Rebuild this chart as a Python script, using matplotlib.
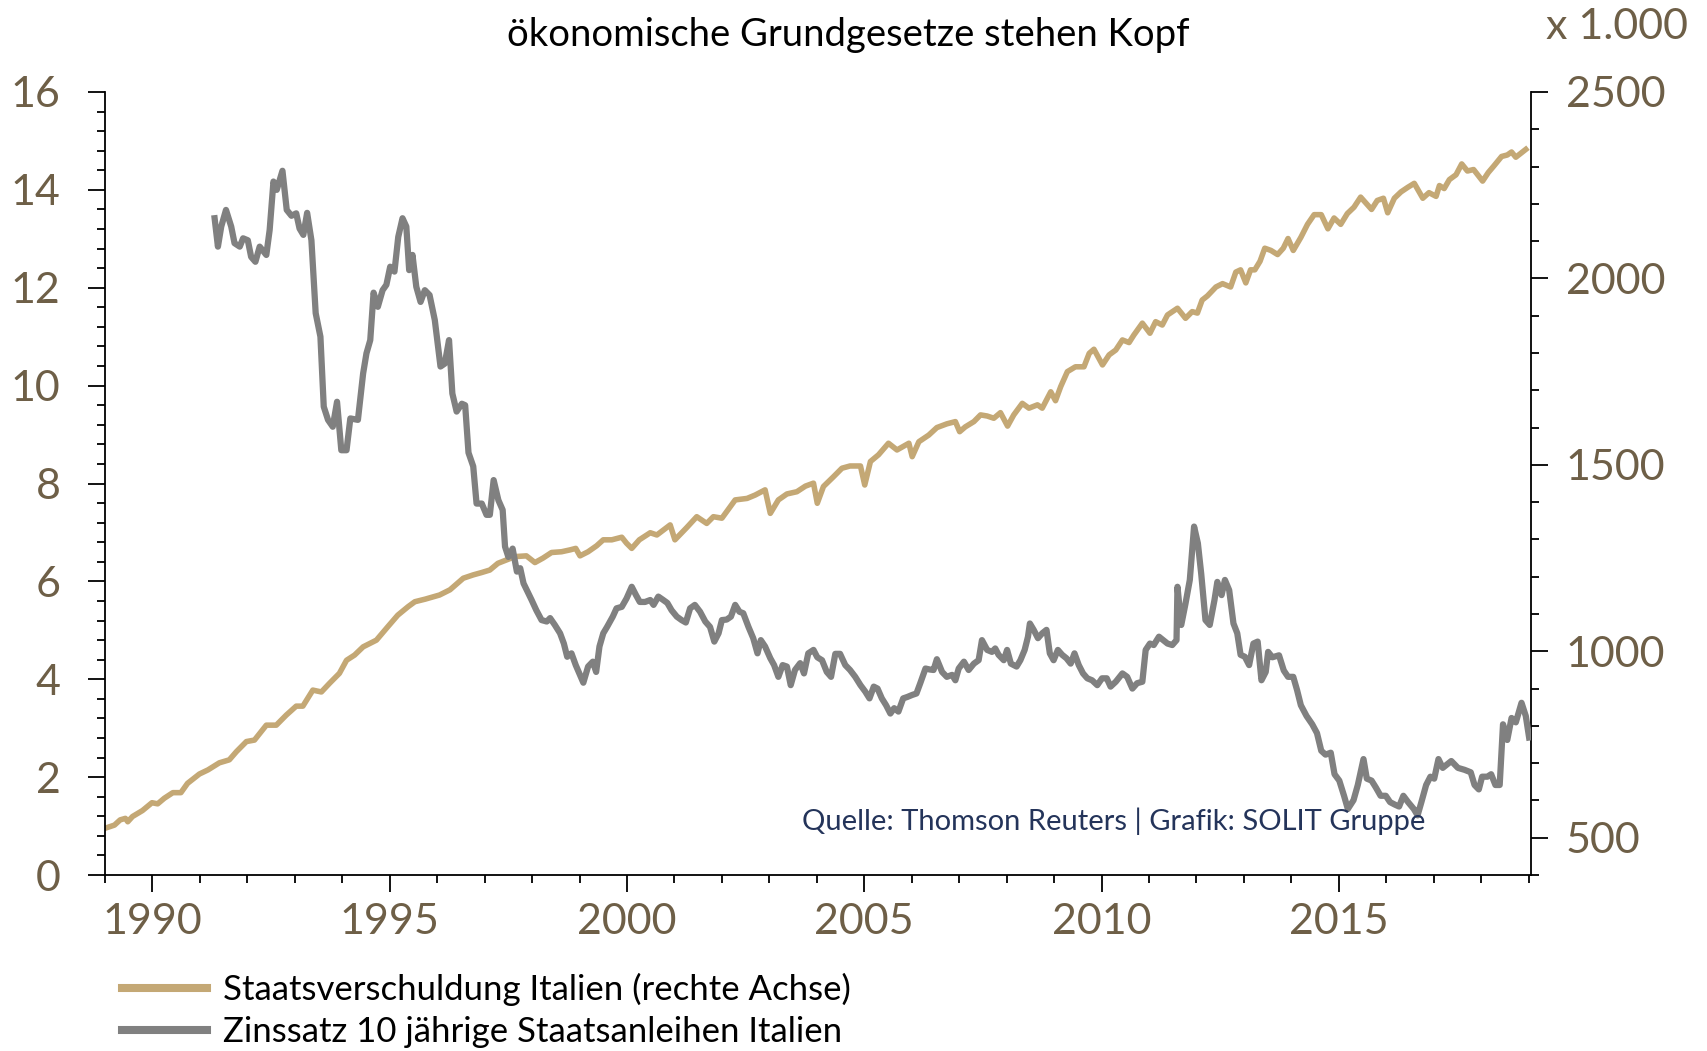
import matplotlib
matplotlib.use("Agg")
import matplotlib.pyplot as plt
from matplotlib.ticker import MultipleLocator

plt.rcParams['font.family'] = ['Lato', 'DejaVu Sans']

# Staatsverschuldung Italien (Mrd. EUR, rechte Achse), Zeitpunkte als Dezimaljahr
debt_t = [1988.99, 1989.20, 1989.32, 1989.43, 1989.48, 1989.58, 1989.79, 1989.99, 1990.11, 1990.25,
          1990.43, 1990.60, 1990.74, 1990.99, 1991.17, 1991.41, 1991.62, 1991.77, 1991.98, 1992.15,
          1992.40, 1992.61, 1992.82, 1993.03, 1993.17, 1993.38, 1993.56, 1993.73, 1993.94, 1994.09,
          1994.26, 1994.44, 1994.72, 1994.96, 1995.17, 1995.39, 1995.53, 1995.75, 1996.05, 1996.27,
          1996.55, 1996.76, 1996.93, 1997.11, 1997.28, 1997.46, 1997.64, 1997.88, 1998.06, 1998.23,
          1998.41, 1998.62, 1998.80, 1998.92, 1999.01, 1999.18, 1999.36, 1999.50, 1999.68, 1999.89,
          1999.99, 2000.10, 2000.26, 2000.49, 2000.63, 2000.91, 2001.01, 2001.26, 2001.47, 2001.68,
          2001.82, 2002.00, 2002.28, 2002.53, 2002.70, 2002.91, 2003.02, 2003.19, 2003.37, 2003.58,
          2003.76, 2003.93, 2004.01, 2004.14, 2004.35, 2004.53, 2004.70, 2004.92, 2005.01, 2005.13,
          2005.30, 2005.51, 2005.69, 2005.94, 2006.01, 2006.15, 2006.36, 2006.53, 2006.74, 2006.92,
          2007.01, 2007.13, 2007.31, 2007.45, 2007.59, 2007.73, 2007.87, 2008.02, 2008.15, 2008.33,
          2008.47, 2008.65, 2008.75, 2008.93, 2009.03, 2009.14, 2009.28, 2009.45, 2009.63, 2009.74,
          2009.84, 2010.02, 2010.16, 2010.30, 2010.44, 2010.58, 2010.68, 2010.86, 2011.02, 2011.14,
          2011.28, 2011.39, 2011.60, 2011.77, 2011.91, 2012.02, 2012.12, 2012.23, 2012.41, 2012.55,
          2012.72, 2012.83, 2012.93, 2013.04, 2013.14, 2013.23, 2013.34, 2013.44, 2013.57, 2013.71,
          2013.83, 2013.93, 2014.04, 2014.20, 2014.34, 2014.48, 2014.63, 2014.77, 2014.90, 2015.04,
          2015.18, 2015.32, 2015.46, 2015.69, 2015.81, 2015.94, 2016.03, 2016.17, 2016.31, 2016.45,
          2016.59, 2016.77, 2016.90, 2017.05, 2017.12, 2017.22, 2017.33, 2017.47, 2017.59, 2017.71,
          2017.84, 2018.03, 2018.15, 2018.27, 2018.43, 2018.55, 2018.64, 2018.73, 2018.84, 2018.94]
debt_v = [525, 534, 548, 552, 543, 557, 573, 594, 591, 606,
          621, 621, 646, 671, 682, 701, 709, 731, 758, 762,
          802, 802, 829, 853, 853, 896, 891, 914, 941, 976,
          990, 1012, 1030, 1066, 1097, 1120, 1133, 1140, 1151, 1165,
          1196, 1205, 1211, 1218, 1236, 1245, 1254, 1256, 1238, 1250,
          1265, 1267, 1272, 1276, 1256, 1267, 1283, 1299, 1299, 1306,
          1290, 1276, 1299, 1318, 1312, 1339, 1299, 1332, 1361, 1343,
          1361, 1357, 1406, 1410, 1419, 1433, 1370, 1406, 1422, 1428,
          1443, 1451, 1397, 1442, 1468, 1491, 1497, 1497, 1446, 1509,
          1527, 1558, 1540, 1558, 1522, 1562, 1580, 1600, 1610, 1616,
          1589, 1602, 1616, 1634, 1631, 1625, 1640, 1604, 1634, 1665,
          1652, 1661, 1652, 1696, 1672, 1710, 1750, 1763, 1763, 1799,
          1810, 1768, 1795, 1808, 1835, 1828, 1848, 1880, 1853, 1884,
          1875, 1902, 1920, 1893, 1911, 1907, 1942, 1953, 1977, 1986,
          1977, 2017, 2023, 1988, 2023, 2023, 2046, 2081, 2075, 2064,
          2081, 2107, 2075, 2110, 2145, 2171, 2171, 2133, 2162, 2145,
          2174, 2191, 2218, 2185, 2209, 2215, 2176, 2215, 2232, 2244,
          2255, 2215, 2230, 2220, 2249, 2241, 2265, 2278, 2307, 2288,
          2292, 2261, 2284, 2302, 2327, 2331, 2339, 2325, 2336, 2346]

# Zinssatz 10-jaehrige Staatsanleihen Italien (%, linke Achse)
yield_t = [1991.31, 1991.38, 1991.45, 1991.55, 1991.66, 1991.73, 1991.84, 1991.91, 1992.01, 1992.08,
           1992.17, 1992.26, 1992.40, 1992.47, 1992.55, 1992.62, 1992.74, 1992.83, 1992.93, 1993.03,
           1993.10, 1993.18, 1993.26, 1993.35, 1993.44, 1993.54, 1993.61, 1993.70, 1993.80, 1993.89,
           1993.98, 1994.09, 1994.17, 1994.33, 1994.44, 1994.51, 1994.59, 1994.66, 1994.75, 1994.85,
           1994.93, 1995.01, 1995.10, 1995.18, 1995.27, 1995.35, 1995.41, 1995.48, 1995.56, 1995.65,
           1995.74, 1995.84, 1995.95, 1996.07, 1996.16, 1996.25, 1996.32, 1996.41, 1996.52, 1996.59,
           1996.66, 1996.76, 1996.83, 1996.94, 1997.04, 1997.11, 1997.19, 1997.29, 1997.38, 1997.43,
           1997.50, 1997.59, 1997.68, 1997.75, 1997.82, 1997.99, 1998.09, 1998.20, 1998.31, 1998.38,
           1998.48, 1998.59, 1998.67, 1998.74, 1998.83, 1998.92, 1999.01, 1999.08, 1999.18, 1999.28,
           1999.35, 1999.42, 1999.50, 1999.58, 1999.70, 1999.78, 1999.89, 1999.99, 2000.10, 2000.19,
           2000.27, 2000.38, 2000.49, 2000.56, 2000.66, 2000.75, 2000.85, 2000.94, 2001.05, 2001.15,
           2001.24, 2001.33, 2001.43, 2001.54, 2001.65, 2001.75, 2001.84, 2001.93, 2002.00, 2002.10,
           2002.19, 2002.28, 2002.37, 2002.45, 2002.56, 2002.66, 2002.75, 2002.82, 2002.91, 2003.02,
           2003.10, 2003.19, 2003.28, 2003.37, 2003.45, 2003.54, 2003.65, 2003.73, 2003.82, 2003.93,
           2004.01, 2004.11, 2004.21, 2004.30, 2004.39, 2004.49, 2004.60, 2004.70, 2004.81, 2004.92,
           2005.02, 2005.11, 2005.20, 2005.28, 2005.37, 2005.46, 2005.55, 2005.63, 2005.72, 2005.82,
           2005.91, 2006.01, 2006.10, 2006.18, 2006.29, 2006.38, 2006.46, 2006.53, 2006.64, 2006.74,
           2006.85, 2006.92, 2006.99, 2007.10, 2007.20, 2007.31, 2007.41, 2007.48, 2007.59, 2007.69,
           2007.76, 2007.83, 2007.94, 2008.01, 2008.09, 2008.21, 2008.29, 2008.38, 2008.45, 2008.49,
           2008.57, 2008.66, 2008.75, 2008.84, 2008.91, 2008.99, 2009.08, 2009.17, 2009.26, 2009.35,
           2009.43, 2009.52, 2009.61, 2009.70, 2009.80, 2009.91, 2010.01, 2010.11, 2010.19, 2010.30,
           2010.44, 2010.54, 2010.65, 2010.75, 2010.86, 2010.93, 2011.02, 2011.10, 2011.21, 2011.30,
           2011.39, 2011.49, 2011.58, 2011.60, 2011.68, 2011.77, 2011.86, 2011.95, 2012.03, 2012.10,
           2012.19, 2012.28, 2012.38, 2012.44, 2012.53, 2012.60, 2012.69, 2012.78, 2012.86, 2012.93,
           2013.02, 2013.11, 2013.20, 2013.29, 2013.37, 2013.46, 2013.51, 2013.60, 2013.74, 2013.84,
           2013.93, 2014.04, 2014.12, 2014.20, 2014.32, 2014.44, 2014.54, 2014.63, 2014.72, 2014.83,
           2014.91, 2015.01, 2015.11, 2015.19, 2015.31, 2015.40, 2015.52, 2015.59, 2015.69, 2015.78,
           2015.88, 2015.99, 2016.08, 2016.18, 2016.27, 2016.36, 2016.46, 2016.58, 2016.66, 2016.74,
           2016.84, 2016.93, 2017.01, 2017.10, 2017.19, 2017.37, 2017.51, 2017.65, 2017.78, 2017.86,
           2017.95, 2018.02, 2018.13, 2018.21, 2018.30, 2018.39, 2018.46, 2018.55, 2018.64, 2018.73,
           2018.85, 2018.94, 2019.01]
yield_v = [13.42, 12.84, 13.25, 13.59, 13.25, 12.91, 12.84, 13.01, 12.97, 12.63,
           12.53, 12.84, 12.67, 13.18, 14.17, 14.00, 14.39, 13.59, 13.47, 13.52,
           13.21, 13.08, 13.53, 12.97, 11.48, 11.00, 9.57, 9.30, 9.16, 9.67,
           8.68, 8.68, 9.33, 9.30, 10.25, 10.66, 10.93, 11.90, 11.61, 11.95,
           12.06, 12.43, 12.33, 13.04, 13.42, 13.25, 12.36, 12.67, 12.02, 11.71,
           11.95, 11.85, 11.34, 10.39, 10.45, 10.93, 9.84, 9.47, 9.63, 9.60,
           8.63, 8.35, 7.59, 7.59, 7.36, 7.36, 8.07, 7.66, 7.46, 6.71,
           6.50, 6.67, 6.20, 6.27, 5.96, 5.62, 5.41, 5.21, 5.18, 5.25,
           5.11, 4.94, 4.73, 4.46, 4.53, 4.29, 4.09, 3.93, 4.26, 4.36,
           4.15, 4.67, 4.94, 5.07, 5.28, 5.45, 5.48, 5.65, 5.89, 5.72,
           5.58, 5.58, 5.62, 5.52, 5.69, 5.63, 5.56, 5.41, 5.28, 5.21,
           5.16, 5.45, 5.52, 5.38, 5.18, 5.07, 4.77, 4.94, 5.21, 5.22,
           5.28, 5.52, 5.38, 5.35, 5.07, 4.84, 4.53, 4.80, 4.67, 4.43,
           4.29, 4.05, 4.29, 4.26, 3.88, 4.19, 4.33, 4.12, 4.53, 4.60,
           4.45, 4.39, 4.15, 4.05, 4.52, 4.52, 4.29, 4.19, 4.05, 3.88,
           3.75, 3.61, 3.85, 3.81, 3.61, 3.47, 3.30, 3.41, 3.34, 3.61,
           3.64, 3.68, 3.71, 3.92, 4.22, 4.20, 4.19, 4.41, 4.15, 4.05,
           4.09, 3.98, 4.22, 4.36, 4.19, 4.32, 4.39, 4.80, 4.60, 4.56,
           4.63, 4.50, 4.39, 4.60, 4.32, 4.26, 4.39, 4.60, 4.87, 5.14,
           5.01, 4.84, 4.94, 5.01, 4.53, 4.39, 4.60, 4.50, 4.43, 4.32,
           4.53, 4.29, 4.12, 4.02, 3.98, 3.88, 4.02, 4.02, 3.85, 3.95,
           4.12, 4.05, 3.81, 3.92, 3.95, 4.60, 4.73, 4.70, 4.87, 4.80,
           4.73, 4.70, 4.80, 5.89, 5.11, 5.55, 6.03, 7.12, 6.78, 6.16,
           5.21, 5.11, 5.62, 5.99, 5.72, 6.03, 5.82, 5.14, 4.94, 4.50,
           4.46, 4.29, 4.73, 4.77, 3.98, 4.15, 4.56, 4.45, 4.49, 4.18,
           4.05, 4.05, 3.78, 3.47, 3.25, 3.08, 2.90, 2.54, 2.46, 2.50,
           2.06, 1.93, 1.62, 1.35, 1.53, 1.84, 2.37, 1.97, 1.93, 1.79,
           1.62, 1.62, 1.49, 1.44, 1.40, 1.62, 1.49, 1.35, 1.22, 1.49,
           1.84, 2.01, 1.97, 2.37, 2.19, 2.33, 2.19, 2.15, 2.10, 1.84,
           1.75, 2.01, 2.01, 2.06, 1.84, 1.84, 3.08, 2.76, 3.21, 3.12,
           3.52, 3.25, 2.81]

year_ticks = [1990, 1995, 2000, 2005, 2010, 2015]

gold = '#c4a875'
grey = '#808080'
brown = '#6e5f47'
navy = '#24345a'

fig = plt.figure(figsize=(17.07, 10.51), dpi=100)
ax = fig.add_axes([0.0615, 0.1674, 0.8354, 0.7451])
ax2 = ax.twinx()

ln_debt, = ax2.plot(debt_t, debt_v, color=gold, lw=4.0, solid_joinstyle='round',
                    label='Staatsverschuldung Italien (rechte Achse)')
ln_yield, = ax.plot(yield_t, yield_v, color=grey, lw=4.5, solid_joinstyle='round',
                    label='Zinssatz 10 jährige Staatsanleihen Italien')

# grey line above the gold one
ax.set_zorder(ax2.get_zorder() + 1)
ax.patch.set_visible(False)

ax.set_xlim(1989.0, 2019.05)
ax.set_ylim(0, 16)
ax2.set_ylim(400, 2500)

ax.set_xticks(year_ticks)
ax.xaxis.set_minor_locator(MultipleLocator(1))
ax.yaxis.set_major_locator(MultipleLocator(2))
ax.yaxis.set_minor_locator(MultipleLocator(0.4))
ax2.yaxis.set_major_locator(MultipleLocator(500))
ax2.yaxis.set_minor_locator(MultipleLocator(100))

for a in (ax, ax2):
    a.spines['top'].set_visible(False)
    for s in a.spines.values():
        s.set_linewidth(1.3)
ax.spines['right'].set_visible(False)
ax2.spines['left'].set_visible(False)
ax2.spines['bottom'].set_visible(False)

ax.tick_params(axis='y', which='major', length=12, width=1.3, pad=20, labelsize=31,
               labelcolor=brown)
ax.tick_params(axis='y', which='minor', length=6, width=1.3)
ax.tick_params(axis='x', which='major', length=12, width=1.3, pad=8, labelsize=31,
               labelcolor=brown)
ax.tick_params(axis='x', which='minor', length=6, width=1.3)
ax2.tick_params(axis='y', which='major', length=12, width=1.3, pad=13, labelsize=31,
                labelcolor=brown)
ax2.tick_params(axis='y', which='minor', length=6, width=1.3)

fig.text(0.497, 0.967, 'ökonomische Grundgesetze stehen Kopf', ha='center', va='center',
         fontsize=27.5, color='black')
fig.text(0.989, 0.974, 'x 1.000', ha='right', va='center', fontsize=31, color=brown)
fig.text(0.470, 0.219, 'Quelle: Thomson Reuters | Grafik: SOLIT Gruppe', ha='left',
         va='center', fontsize=21, color=navy)

leg = fig.legend(handles=[ln_debt, ln_yield], loc='upper left', bbox_to_anchor=(0.0715, 0.074),
                 frameon=False, fontsize=25, handlelength=2.45, handletextpad=0.47,
                 labelspacing=0.28, borderaxespad=0, borderpad=0)
for h in leg.get_lines():
    h.set_linewidth(5.8)

fig.savefig('out.png', dpi=100)
